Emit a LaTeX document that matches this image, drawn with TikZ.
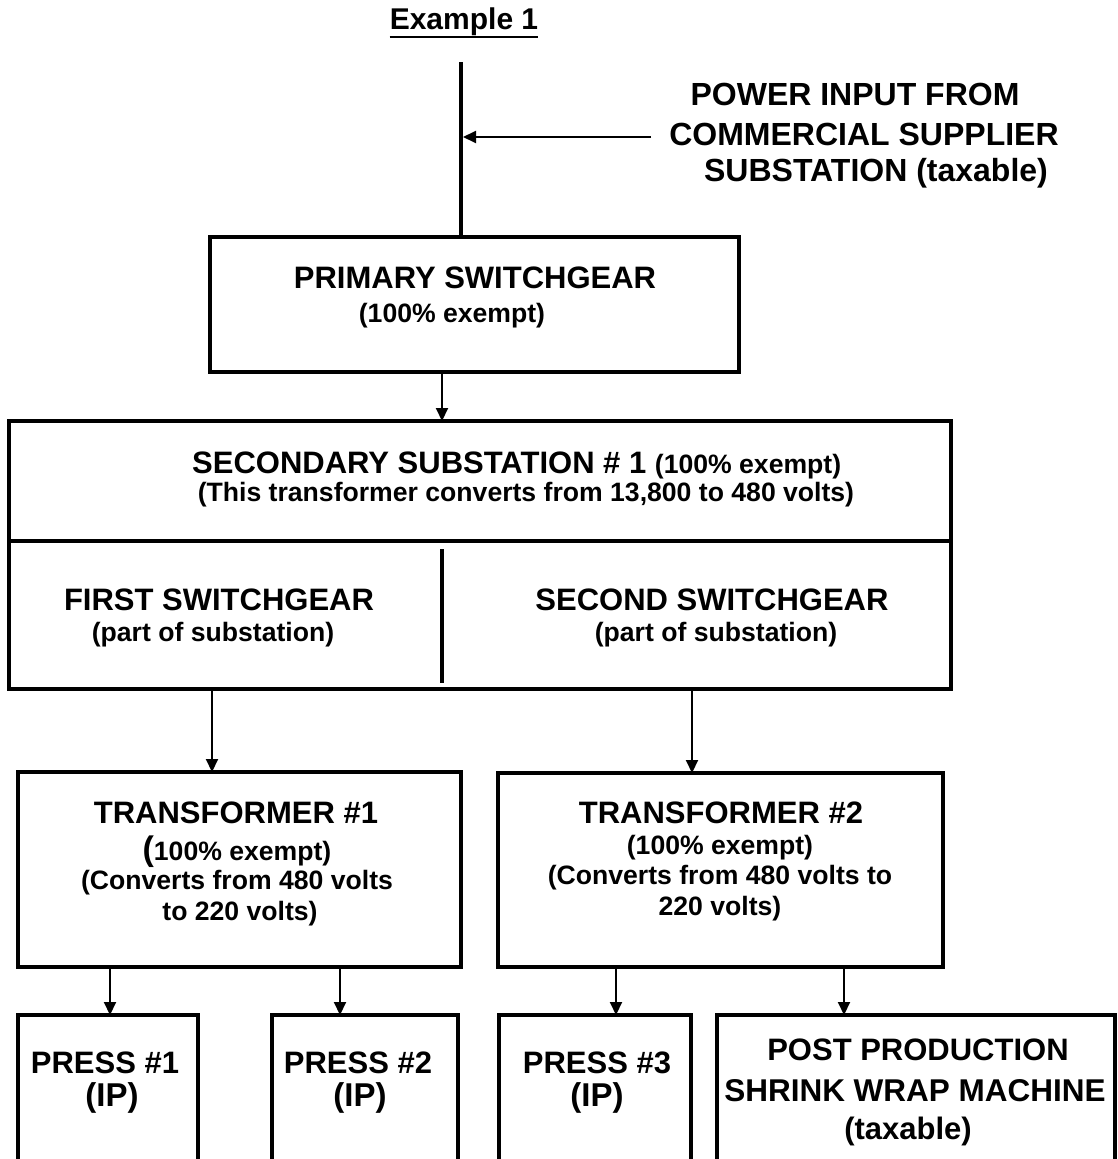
\documentclass[tikz,border=0pt]{standalone}
\usepackage{fontspec}
\setmainfont{Liberation Sans}
\usetikzlibrary{arrows.meta}
\tikzset{
  box/.style={draw, line width=4pt, inner sep=0pt, outer sep=0pt},
  arr/.style={line width=2pt, -{Triangle[length=13pt,width=12pt]}},
  big/.style={font=\fontsize{31}{36}\selectfont\bfseries, inner sep=0pt},
  bigger/.style={font=\fontsize{32}{36}\selectfont\bfseries, inner sep=0pt},
  ipstyle/.style={font=\fontsize{33}{36}\selectfont\bfseries, inner sep=0pt},
  small/.style={font=\fontsize{26.6}{30}\selectfont\bfseries, inner sep=0pt},
  heavy/.style={line width=3.5pt},
}
\begin{document}
\begin{tikzpicture}[x=1pt,y=-1pt]
\useasboundingbox (0,0) rectangle (1117,1159);
% title
\node[font=\fontsize{30}{34}\selectfont\bfseries, inner sep=0pt] (title) at (464,22) {Example 1};
\draw[line width=2.5pt] ([yshift=-1pt]title.south west) -- ([yshift=-1pt]title.south east);
% input
\node[bigger] (in1) at (855,94) {POWER INPUT FROM};
\node[bigger] (in2) at (864,134) {COMMERCIAL SUPPLIER};
\node[bigger] (in3) at (876,173) {SUBSTATION (taxable)};
% boxes
\node[box, minimum width=529pt, minimum height=135pt] (prim) at (474.5,304.5) {};
\node[box, minimum width=942pt, minimum height=268pt] (sec) at (480,555) {};
\node[box, minimum width=443pt, minimum height=195pt] (t1) at (239.5,869.5) {};
\node[box, minimum width=445pt, minimum height=194pt] (t2) at (720.5,870) {};
\node[box, minimum width=180pt, minimum height=185pt] (p1) at (108,1107.5) {};
\node[box, minimum width=186pt, minimum height=185pt] (p2) at (365,1107.5) {};
\node[box, minimum width=192pt, minimum height=185pt] (p3) at (595,1107.5) {};
\node[box, minimum width=398pt, minimum height=185pt] (pp) at (916,1107.5) {};
% secondary dividers
\coordinate (dy) at (0,541);
\draw[line width=4pt] (sec.west |- dy) -- (sec.east |- dy);
\coordinate (dv1) at (442,549);
\coordinate (dv2) at (442,683);
\draw[heavy] (dv1) -- (dv2);
% feed line and input arrow
\coordinate (ltop) at (461,62);
\draw[heavy] (ltop) -- (prim.north -| ltop);
\coordinate (src) at (651,137);
\coordinate (lin) at (463,137);
\draw[arr] (src) -- (lin);
% arrow x positions
\coordinate (a1) at (442,0);
\coordinate (a2) at (212,0);
\coordinate (a3) at (692,0);
\coordinate (a4) at (110,0);
\coordinate (a5) at (340,0);
\coordinate (a6) at (616,0);
\coordinate (a7) at (844,0);
\draw[arr] (prim.south -| a1) -- (sec.north -| a1);
\draw[arr] (sec.south -| a2) -- (t1.north -| a2);
\draw[arr] (sec.south -| a3) -- (t2.north -| a3);
\draw[arr] (t1.south -| a4) -- (p1.north -| a4);
\draw[arr] (t1.south -| a5) -- (p2.north -| a5);
\draw[arr] (t2.south -| a6) -- (p3.north -| a6);
\draw[arr] (t2.south -| a7) -- (pp.north -| a7);
% texts
\node[big] (primA) at (475,278) {PRIMARY SWITCHGEAR};
\node[small] (primB) at (452,316) {(100\% exempt)};
\node[anchor=west, inner sep=0pt] (secA) at (192,465) {\fontsize{31}{36}\selectfont\bfseries SECONDARY SUBSTATION \# 1 \fontsize{26.6}{30}\selectfont(100\% exempt)};
\node[small] (secB) at (526,495) {(This transformer converts from 13,800 to 480 volts)};
\node[big] (fsA) at (219,600) {FIRST SWITCHGEAR};
\node[small] (fsB) at (213,635) {(part of substation)};
\node[big] (ssA) at (712,600) {SECOND SWITCHGEAR};
\node[small] (ssB) at (716,635) {(part of substation)};
\node[big] (t1A) at (236,813) {TRANSFORMER \#1};
\node[small] (t1B) at (237,852) {{\fontsize{34}{36}\selectfont(}100\% exempt)};
\node[small] (t1C) at (237,883) {(Converts from 480 volts};
\node[small] (t1D) at (240,914) {to 220 volts)};
\node[big] (t2A) at (721,813) {TRANSFORMER \#2};
\node[small] (t2B) at (720,848) {(100\% exempt)};
\node[small] (t2C) at (720,878) {(Converts from 480 volts to};
\node[small] (t2D) at (720,909) {220 volts)};
\node[big] (p1A) at (105,1063) {PRESS \#1};
\node[ipstyle] (p1B) at (112,1098) {(IP)};
\node[big] (p2A) at (358,1063) {PRESS \#2};
\node[ipstyle] (p2B) at (360,1098) {(IP)};
\node[big] (p3A) at (597,1063) {PRESS \#3};
\node[ipstyle] (p3B) at (597,1098) {(IP)};
\node[big] (ppA) at (918,1050) {POST PRODUCTION};
\node[font=\fontsize{31.5}{36}\selectfont\bfseries, inner sep=0pt] (ppB) at (915,1091) {SHRINK WRAP MACHINE};
\node[big] (ppC) at (908,1131) {(taxable)};
\end{tikzpicture}
\end{document}
